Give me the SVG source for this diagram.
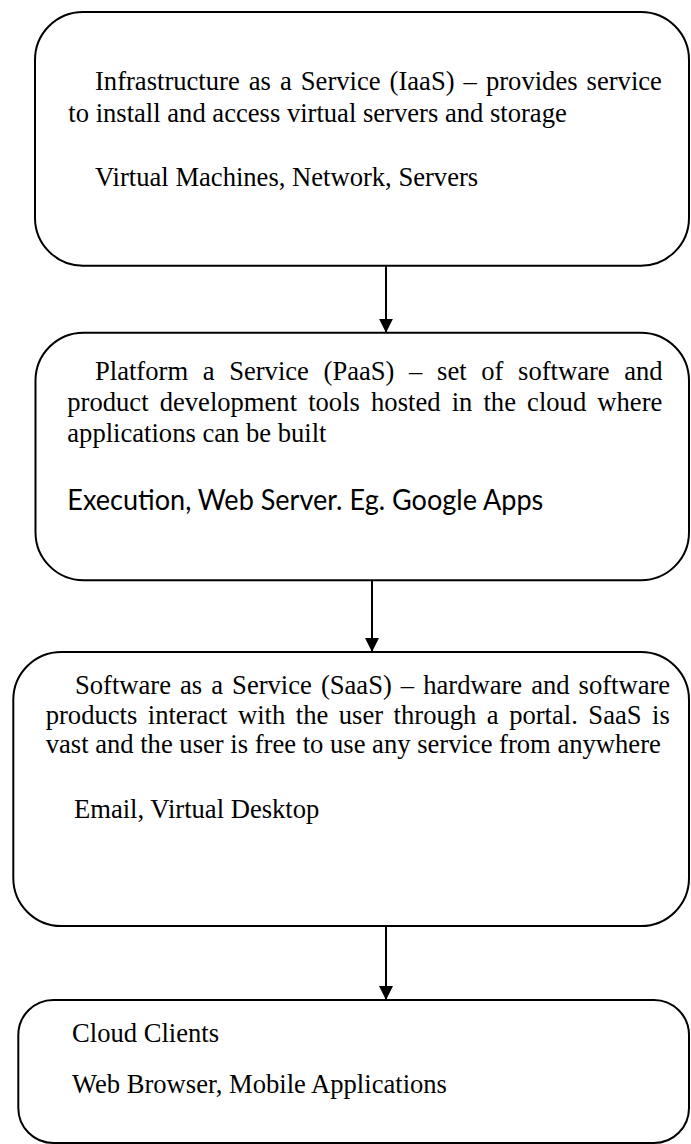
<svg xmlns="http://www.w3.org/2000/svg" width="691" height="1144" viewBox="0 0 691 1144">
  <style>
    .box { fill: #ffffff; stroke: #000000; stroke-width: 2; }
    .link { stroke: #000000; stroke-width: 2; fill: none; }
    .t { font-family: "Liberation Serif", "Times New Roman", serif; font-size: 26.6px; fill: #000000; }
    .c { font-family: Lato, "Open Sans", "Liberation Sans", sans-serif; font-size: 29px; fill: #000000; }
  </style>
  <defs>
    <marker id="arrow" markerUnits="userSpaceOnUse" markerWidth="14" markerHeight="15" refX="14" refY="7" orient="auto">
      <path d="M0,0 L14,7 L0,14 z" fill="#000000"/>
    </marker>
  </defs>
  <rect width="691" height="1144" fill="#ffffff"/>

  <!-- arrows between the layers -->
  <g id="connectors">
    <line class="link" x1="386" y1="266" x2="386" y2="332.7" marker-end="url(#arrow)"/>
    <line class="link" x1="372" y1="580" x2="372" y2="652" marker-end="url(#arrow)"/>
    <line class="link" x1="386" y1="926" x2="386" y2="1000" marker-end="url(#arrow)"/>
  </g>

  <g id="iaas">
    <rect class="box" x="35" y="12" width="654" height="253.7" rx="48" ry="48"/>
    <text class="t" x="95" y="90" style="word-spacing:2.4px">Infrastructure as a Service (IaaS) – provides service</text>
    <text class="t" x="68.3" y="122">to install and access virtual servers and storage</text>
    <text class="t" x="95" y="186">Virtual Machines, Network, Servers</text>
  </g>

  <g id="paas">
    <rect class="box" x="35.5" y="332.7" width="653.5" height="247.5" rx="48" ry="48"/>
    <text class="t" x="95" y="379.5" style="word-spacing:8px">Platform a Service (PaaS) – set of software and</text>
    <text class="t" x="67.3" y="411" style="word-spacing:4.5px">product development tools hosted in the cloud where</text>
    <text class="t" x="67.3" y="442">applications can be built</text>
    <text class="c" x="67.3" y="510" textLength="476" lengthAdjust="spacingAndGlyphs">Execution, Web Server. Eg. Google Apps</text>
  </g>

  <g id="saas">
    <rect class="box" x="13.3" y="652" width="675.7" height="274" rx="48" ry="48"/>
    <text class="t" x="75" y="693.5" style="word-spacing:2.4px">Software as a Service (SaaS) – hardware and software</text>
    <text class="t" x="45.7" y="723.5" style="word-spacing:3.86px">products interact with the user through a portal. SaaS is</text>
    <text class="t" x="45.7" y="753">vast and the user is free to use any service from anywhere</text>
    <text class="t" x="74" y="818">Email, Virtual Desktop</text>
  </g>

  <g id="clients">
    <rect class="box" x="18.3" y="1000" width="670.7" height="143" rx="35" ry="35"/>
    <text class="t" x="72" y="1041.7">Cloud Clients</text>
    <text class="t" x="72" y="1093">Web Browser, Mobile Applications</text>
  </g>
</svg>
